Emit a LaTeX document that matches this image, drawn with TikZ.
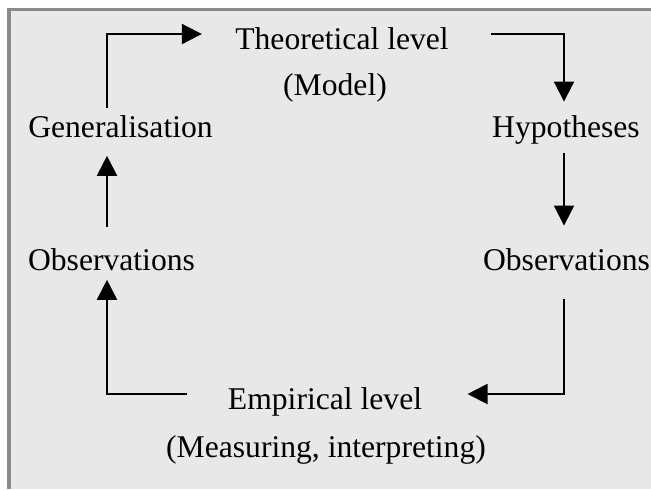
\documentclass[tikz,border=0pt]{standalone}
\usepackage{fontspec}
\setmainfont{Liberation Serif}
\usepackage{tikz}
\usetikzlibrary{arrows.meta,positioning,calc}
\definecolor{panelgray}{HTML}{E8E8E8}
\definecolor{framegray}{HTML}{8A8A8A}
\tikzset{
  cyc/label/.style={inner sep=0pt, anchor=base, font=\fontsize{12.65}{15}\selectfont},
  cyc/flow/.style={line width=0.8pt, -{Triangle[length=8pt,width=8pt]}},
  cyc/panel/.style={fill=panelgray},
  cyc/frame/.style={draw=framegray, line width=1.5pt}
}

\begin{document}
\begin{tikzpicture}[x=0.4pt, y=-0.4pt]
  \useasboundingbox (0,0) rectangle (651,489);
  \fill[white] (0,0) rectangle (651,489);
  \fill[cyc/panel] (9,9.5) rectangle (651,489);
  \draw[cyc/frame] (9,489) -- (9,9.5) -- (651,9.5);

  \node[cyc/label] (theo) at (342,49) {Theoretical level};
  \node[cyc/label] (model) at (335,95) {(Model)};
  \node[cyc/label] (gen) at (120.5,137) {Generalisation};
  \node[cyc/label] (hyp) at (566,137) {Hypotheses};
  \node[cyc/label] (obsL) at (111.5,270) {Observations};
  \node[cyc/label] (obsR) at (566.5,270) {Observations};
  \node[cyc/label] (emp) at (325,409) {Empirical level};
  \node[cyc/label] (meas) at (326,457) {(Measuring, interpreting)};

  \coordinate (tl) at (107,34);
  \coordinate (tr) at (564,34);
  \coordinate (br) at (564,394);
  \coordinate (bl) at (107,394);

  \draw[cyc/flow, shorten <=2.8pt, shorten >=13.2pt] (gen.north -| tl) -- (tl) -- (theo.west |- tl);
  \draw[cyc/flow, shorten <=16.8pt, shorten >=5.2pt] (theo.east |- tr) -- (tr) -- (hyp.north -| tr);
  \draw[cyc/flow, shorten <=3.6pt, shorten >=8.8pt] (hyp.south -| tr) -- (obsR.north -| tr);
  \draw[cyc/flow, shorten <=11.2pt, shorten >=18pt] (obsR.south -| br) -- (br) -- (emp.east |- br);
  \draw[cyc/flow, shorten <=16pt, shorten >=3.6pt] (emp.west |- bl) -- (bl) -- (obsL.south -| bl);
  \draw[cyc/flow, shorten <=8.4pt, shorten >=7.2pt] (obsL.north -| bl) -- (gen.south -| bl);
\end{tikzpicture}
\end{document}
